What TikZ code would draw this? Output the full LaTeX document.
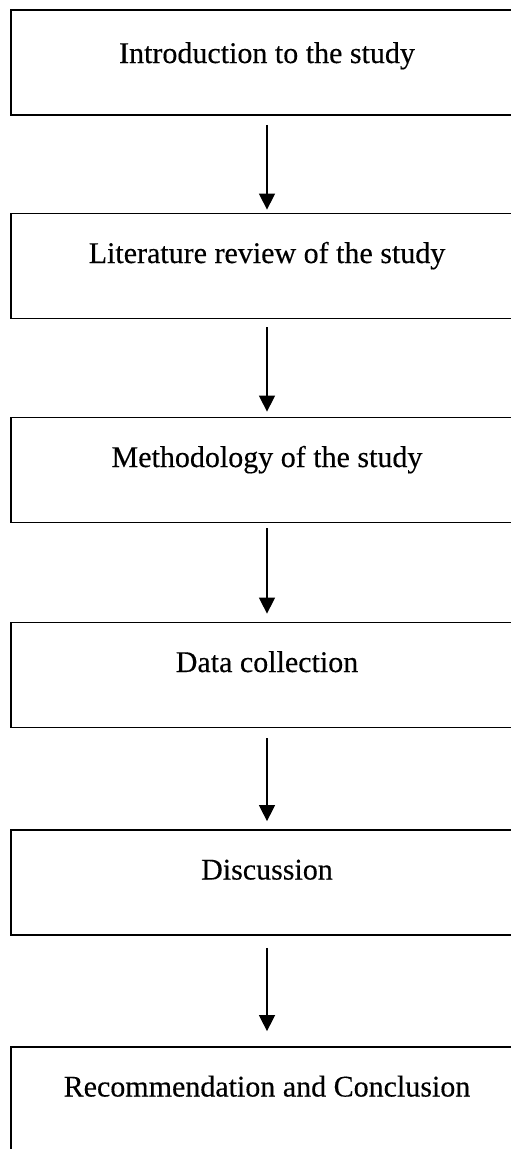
\documentclass[tikz,border=0pt]{standalone}
\usepackage{fontspec}
\setmainfont{Liberation Serif}[FakeBold=0.3]
\usetikzlibrary{arrows.meta}
\begin{document}
\begin{tikzpicture}[x=1pt,y=1pt,
  stagebox/.style={draw=black, line width=1.8pt, fill=none, minimum width=512pt, minimum height=105pt,
    inner sep=0pt, text height=20pt, text depth=26pt, font=\fontsize{30}{36}\selectfont},
  flowarrow/.style={draw=black, line width=1.5pt, -{Triangle[width=16pt,length=16pt]}}]
\useasboundingbox (0,0) rectangle (511,-1149);
\fill[white] (0,0) rectangle (511,-1149);
\clip (0,0) rectangle (511,-1149);
\node[stagebox, text depth=19pt] (b1) at (267,-62.5) {Introduction to the study};
\node[stagebox] (b2) at (267,-266) {Literature review of the study};
\node[stagebox] (b3) at (267,-470) {Methodology of the study};
\node[stagebox] (b4) at (267,-675) {Data collection};
\node[stagebox] (b5) at (267,-882.5) {Discussion};
\node[stagebox] (b6) at (267,-1099.5) {Recommendation and Conclusion};
\draw[flowarrow, shorten <=9pt, shorten >=3pt] (b1.south) -- (b2.north);
\draw[flowarrow, shorten <=8pt, shorten >=5pt] (b2.south) -- (b3.north);
\draw[flowarrow, shorten <=5pt, shorten >=8pt] (b3.south) -- (b4.north);
\draw[flowarrow, shorten <=10pt, shorten >=8pt] (b4.south) -- (b5.north);
\draw[flowarrow, shorten <=12pt, shorten >=15pt] (b5.south) -- (b6.north);
\end{tikzpicture}
\end{document}
